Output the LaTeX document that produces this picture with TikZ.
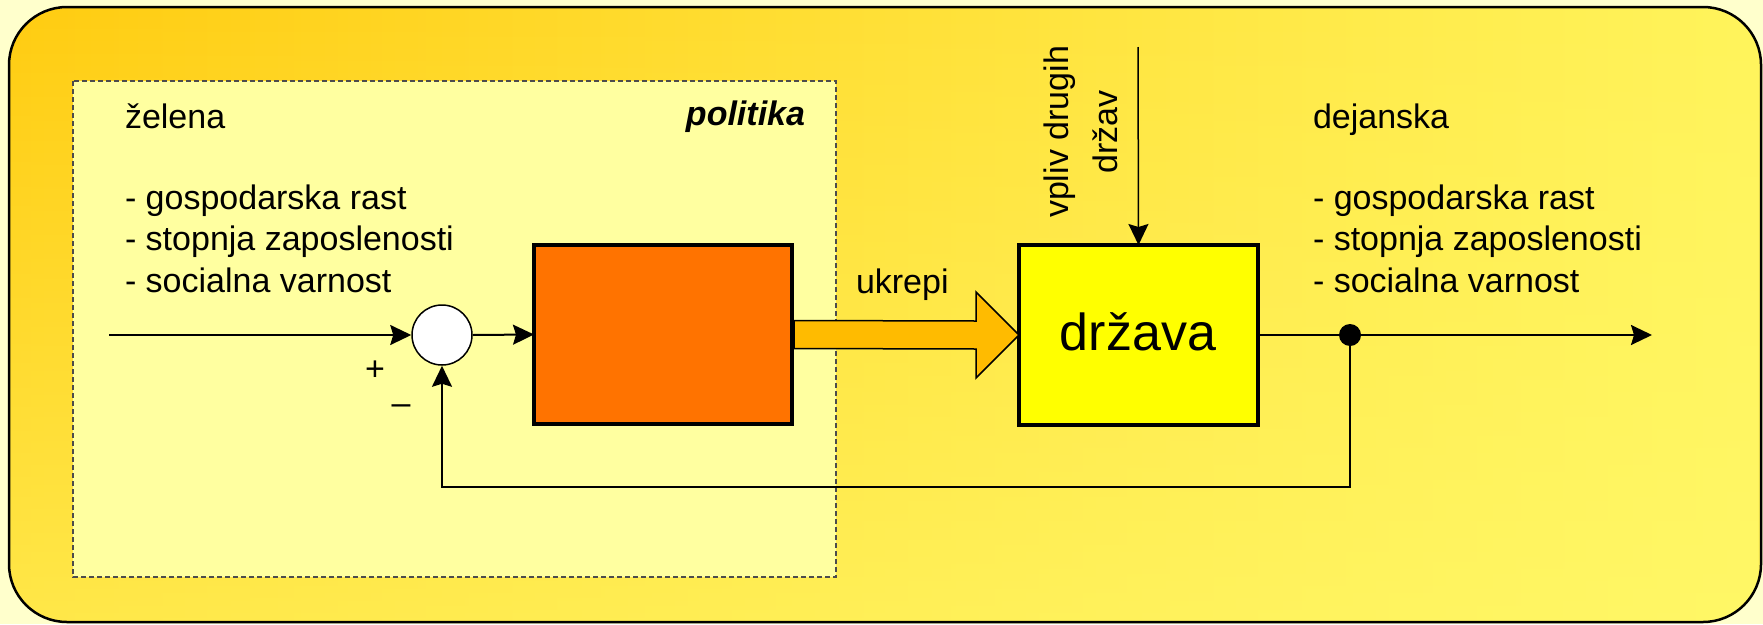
\documentclass[tikz,border=0pt]{standalone}
\usepackage{fontspec}
\setmainfont{Liberation Sans}
\usetikzlibrary{arrows.meta,calc,fadings}

\definecolor{pagebg}{RGB}{255,255,204}
\definecolor{panelA}{RGB}{255,204,17}
\definecolor{panelB}{RGB}{255,244,92}
\definecolor{panelC}{RGB}{255,250,110}
\definecolor{polbg}{RGB}{255,255,160}
\definecolor{ctrlfill}{RGB}{255,115,0}
\definecolor{plantfill}{RGB}{255,255,0}
\definecolor{actfill}{RGB}{255,187,0}

\tikzset{
  txt/.style={font=\fontsize{34}{41}\selectfont, inner sep=0pt, outer sep=0pt},
  bigtxt/.style={font=\fontsize{52}{60}\selectfont, inner sep=0pt},
  blockbox/.style={draw=black, line width=4pt, rectangle, inner sep=0pt, outer sep=0pt},
  signal/.style={line width=2pt, -{Stealth[length=21pt,width=20pt,inset=3pt]}},
  actarrow/.style={fill=actfill, draw=black, line width=1.5pt, line join=miter},
  panel/.style={rounded corners=58pt},
}

\begin{document}
\begin{tikzpicture}[x=1pt,y=-1pt]
  \useasboundingbox (0,0) rectangle (1763,624);
  \fill[pagebg] (0,0) rectangle (1763,624);

  % outer panel: left-to-right gradient, lightened towards the bottom
  \begin{scope}
    \clip[panel] (9,7) rectangle (1761,622);
    \shade[left color=panelA, right color=panelB] (9,7) rectangle (1761,622);
    \fill[panelC, path fading=north, fill opacity=0.6] (9,7) rectangle (1761,622);
  \end{scope}
  \draw[panel, line width=2.5pt] (9,7) rectangle (1761,622);

  % policy region
  \draw[fill=polbg, draw=black!70, dash pattern=on 5pt off 3pt, line width=1.5pt]
        (73,81) rectangle (836,577);

  % blocks
  \node[blockbox, fill=ctrlfill, minimum width=258pt, minimum height=179pt] (ctrl) at (663,334.5) {};
  \node[blockbox, fill=plantfill, minimum width=239pt, minimum height=180pt] (plant) at (1138.5,335) {};
  \node[bigtxt, anchor=base] (plantlbl) at (1138,350) {država};

  % comparator and branch point
  \node[circle, draw=black, line width=1.5pt, fill=white, minimum size=60pt, inner sep=0pt] (sum) at (442,335) {};
  \node[circle, fill=black, minimum size=22pt, inner sep=0pt] (tap) at (1350,335) {};

  \coordinate (in) at (109,335);
  \coordinate (out) at (1652,335);
  \coordinate (dist) at (1138,47);
  \coordinate (fb) at (1350,487);

  % action arrow from controller to state
  \draw[actarrow] ($(ctrl.east)+(2,-14)$) -- ($(plant.west)+(-43,-14)$) -- ($(plant.west)+(-43,-43)$)
        -- (plant.west) -- ($(plant.west)+(-43,43)$) -- ($(plant.west)+(-43,14)$)
        -- ($(ctrl.east)+(2,14)$) -- cycle;

  % signal lines
  \draw[signal] (in) -- (sum.west);
  \draw[signal] (sum.east) -- (ctrl.west);
  \draw[signal] (plant.east) -- (out);
  \draw[signal, line width=1.5pt] (dist) -- (plant.north);
  \draw[signal] (tap.center) -- (fb) -| (sum.south);

  % labels
  \node[txt, anchor=base west] (want) at (125,128) {želena};
  \node[txt, anchor=base east, font=\fontsize{34}{41}\selectfont\bfseries\itshape] (pol) at (805,125) {politika};
  \node[txt, anchor=base west] (l1) at (125,209) {- gospodarska rast};
  \node[txt, anchor=base west] (l2) at (125,250) {- stopnja zaposlenosti};
  \node[txt, anchor=base west] (l3) at (125,292) {- socialna varnost};

  \node[txt, anchor=base west] (real) at (1313,128) {dejanska};
  \node[txt, anchor=base west] (r1) at (1313,209) {- gospodarska rast};
  \node[txt, anchor=base west] (r2) at (1313,250) {- stopnja zaposlenosti};
  \node[txt, anchor=base west] (r3) at (1313,292) {- socialna varnost};

  \node[txt, anchor=base west] (act) at (856,293) {ukrepi};

  \node[txt, anchor=base, rotate=90] (d1) at (1068,132) {vpliv drugih};
  \node[txt, anchor=base, rotate=90] (d2) at (1117,132) {držav};

  \node[txt, anchor=base] (plus) at (375,380) {+};
  \node[txt, anchor=base] (minus) at (401,414) {–};
\end{tikzpicture}
\end{document}
